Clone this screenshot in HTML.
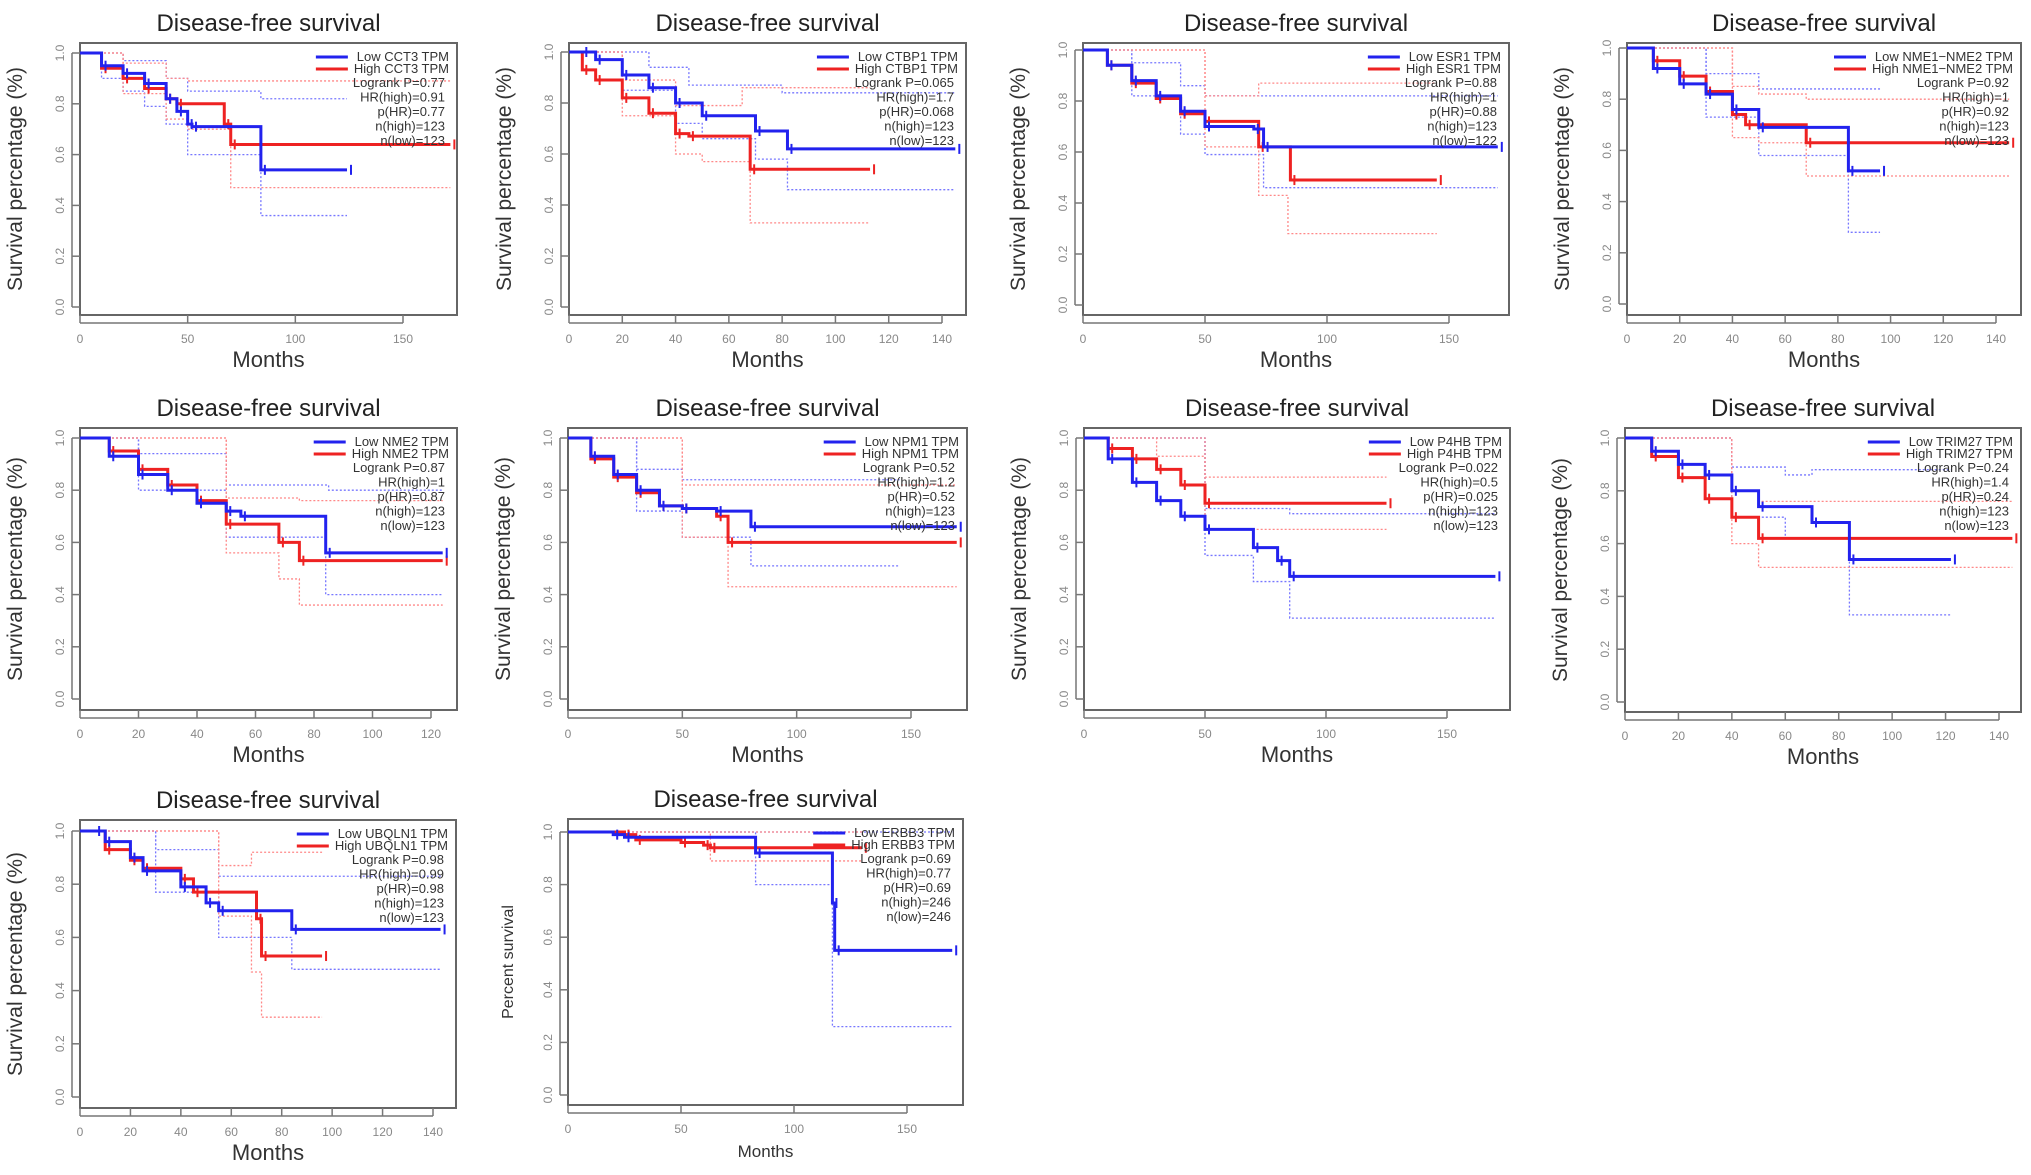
<!DOCTYPE html>
<html><head><meta charset="utf-8">
<style>
html,body{margin:0;padding:0;background:#fff;}
svg{display:block;font-family:"Liberation Sans",sans-serif;}
</style></head>
<body>
<svg id="fig" width="2031" height="1175" viewBox="0 0 2031 1175" xmlns="http://www.w3.org/2000/svg"></svg>
<script>
// ---- data: step points [months, survival] ----
const cct3Low=[[0,1],[10,.95],[20,.92],[30,.88],[40,.82],[45,.77],[50,.72],[52,.71],[84,.54],[124,.54]];
const cct3High=[[0,1],[10,.94],[20,.90],[30,.86],[40,.82],[45,.80],[67,.72],[70,.64],[172,.64]];
const cct3LowUp=[[0,1],[20,.97],[40,.90],[50,.85],[84,.82],[124,.82]];
const cct3LowDn=[[0,1],[10,.90],[20,.85],[30,.79],[40,.72],[50,.60],[84,.36],[124,.36]];
const cct3HighUp=[[0,1],[20,.96],[40,.90],[50,.89],[172,.89]];
const cct3HighDn=[[0,1],[20,.84],[40,.74],[50,.70],[70,.47],[172,.47]];
const cct3Stats=["Logrank P=0.77","HR(high)=0.91","p(HR)=0.77","n(high)=123","n(low)=123"];

const ctbp1Low=[[0,1],[5,1],[10,.97],[20,.91],[30,.86],[40,.80],[50,.75],[70,.69],[82,.62],[145,.62]];
const ctbp1High=[[0,1],[5,.93],[10,.89],[20,.82],[30,.76],[40,.68],[45,.67],[68,.54],[113,.54]];
const ctbp1LowUp=[[0,1],[10,1],[30,.94],[45,.87],[80,.84],[145,.84]];
const ctbp1LowDn=[[0,1],[20,.85],[40,.72],[50,.66],[70,.58],[82,.46],[145,.46]];
const ctbp1HighUp=[[0,1],[20,.89],[40,.79],[65,.86],[113,.86]];
const ctbp1HighDn=[[0,1],[20,.75],[40,.60],[50,.57],[68,.33],[113,.33]];
const ctbp1Stats=["Logrank P=0.065","HR(high)=1.7","p(HR)=0.068","n(high)=123","n(low)=123"];

const esr1Low=[[0,1],[10,.94],[20,.88],[30,.82],[40,.76],[50,.70],[70,.69],[74,.62],[170,.62]];
const esr1High=[[0,1],[10,.94],[20,.87],[30,.81],[40,.75],[50,.72],[72,.62],[85,.49],[145,.49]];
const esr1LowUp=[[0,1],[20,.95],[40,.86],[50,.82],[170,.82]];
const esr1LowDn=[[0,1],[20,.82],[40,.67],[50,.59],[74,.46],[170,.46]];
const esr1HighUp=[[0,1],[50,.82],[72,.87],[145,.87]];
const esr1HighDn=[[0,1],[50,.62],[72,.43],[84,.28],[145,.28]];
const esr1Stats=["Logrank P=0.88","HR(high)=1","p(HR)=0.88","n(high)=123","n(low)=122"];

const nme1Low=[[0,1],[10,.92],[20,.86],[30,.82],[40,.76],[50,.69],[84,.52],[96,.52]];
const nme1High=[[0,1],[10,.95],[20,.89],[30,.83],[40,.74],[45,.70],[68,.63],[145,.63]];
const nme1LowUp=[[0,1],[30,.90],[50,.84],[84,.84],[96,.84]];
const nme1LowDn=[[0,1],[30,.73],[50,.58],[84,.28],[96,.28]];
const nme1HighUp=[[0,1],[40,.85],[50,.82],[68,.80],[145,.80]];
const nme1HighDn=[[0,1],[40,.65],[50,.63],[68,.50],[145,.50]];
const nme1Stats=["Logrank P=0.92","HR(high)=1","p(HR)=0.92","n(high)=123","n(low)=123"];

const nme2Low=[[0,1],[10,.93],[20,.86],[30,.80],[40,.75],[50,.72],[55,.70],[84,.56],[124,.56]];
const nme2High=[[0,1],[10,.95],[20,.88],[30,.82],[40,.76],[50,.67],[68,.60],[75,.53],[124,.53]];
const nme2LowUp=[[0,1],[20,.94],[50,.82],[85,.80],[124,.80]];
const nme2LowDn=[[0,1],[20,.80],[50,.62],[84,.40],[124,.40]];
const nme2HighUp=[[0,1],[50,.77],[75,.76],[124,.76]];
const nme2HighDn=[[0,1],[50,.56],[68,.46],[75,.36],[124,.36]];
const nme2Stats=["Logrank P=0.87","HR(high)=1","p(HR)=0.87","n(high)=123","n(low)=123"];

const npm1Low=[[0,1],[10,.93],[20,.86],[30,.80],[40,.74],[50,.73],[65,.72],[80,.66],[170,.66]];
const npm1High=[[0,1],[10,.92],[20,.85],[30,.79],[40,.74],[50,.73],[65,.70],[70,.60],[170,.60]];
const npm1LowUp=[[0,1],[30,.88],[50,.84],[145,.84]];
const npm1LowDn=[[0,1],[30,.72],[50,.62],[80,.51],[145,.51]];
const npm1HighUp=[[0,1],[50,.82],[170,.82]];
const npm1HighDn=[[0,1],[50,.62],[70,.43],[170,.43]];
const npm1Stats=["Logrank P=0.52","HR(high)=1.2","p(HR)=0.52","n(high)=123","n(low)=123"];

const p4hbLow=[[0,1],[10,.92],[20,.83],[30,.76],[40,.70],[50,.65],[70,.58],[80,.53],[85,.47],[170,.47]];
const p4hbHigh=[[0,1],[10,.96],[20,.92],[30,.88],[40,.82],[50,.75],[125,.75]];
const p4hbLowUp=[[0,1],[50,.73],[85,.71],[170,.71]];
const p4hbLowDn=[[0,1],[50,.55],[70,.45],[85,.31],[170,.31]];
const p4hbHighUp=[[0,1],[30,.93],[50,.85],[125,.85]];
const p4hbHighDn=[[0,1],[50,.65],[125,.65]];
const p4hbStats=["Logrank P=0.022","HR(high)=0.5","p(HR)=0.025","n(high)=123","n(low)=123"];

const trim27Low=[[0,1],[10,.95],[20,.90],[30,.86],[40,.80],[50,.74],[70,.68],[84,.54],[122,.54]];
const trim27High=[[0,1],[10,.93],[20,.85],[30,.77],[40,.70],[50,.62],[145,.62]];
const trim27LowUp=[[0,1],[40,.89],[60,.86],[70,.88],[122,.88]];
const trim27LowDn=[[0,1],[40,.70],[60,.62],[84,.33],[122,.33]];
const trim27HighUp=[[0,1],[40,.80],[50,.76],[145,.76]];
const trim27HighDn=[[0,1],[40,.60],[50,.51],[145,.51]];
const trim27Stats=["Logrank P=0.24","HR(high)=1.4","p(HR)=0.24","n(high)=123","n(low)=123"];

const ubqln1Low=[[0,1],[6,1],[10,.96],[20,.90],[25,.85],[40,.79],[50,.73],[55,.70],[84,.63],[143,.63]];
const ubqln1High=[[0,1],[10,.93],[20,.89],[25,.86],[40,.82],[45,.77],[70,.67],[72,.53],[96,.53]];
const ubqln1LowUp=[[0,1],[30,.93],[55,.83],[143,.83]];
const ubqln1LowDn=[[0,1],[30,.77],[55,.60],[84,.48],[143,.48]];
const ubqln1HighUp=[[0,1],[55,.87],[68,.92],[96,.92]];
const ubqln1HighDn=[[0,1],[55,.68],[68,.47],[72,.30],[96,.30]];
const ubqln1Stats=["Logrank P=0.98","HR(high)=0.99","p(HR)=0.98","n(high)=123","n(low)=123"];

const erbb3Low=[[0,1],[20,.99],[25,.98],[83,.92],[117,.73],[118,.55],[170,.55]];
const erbb3High=[[0,1],[25,.99],[30,.97],[50,.96],[60,.95],[63,.94],[130,.94]];
const erbb3LowUp=[[0,1],[170,1]];
const erbb3LowDn=[[0,1],[83,.80],[117,.26],[170,.26]];
const erbb3HighUp=[[0,1],[130,.99]];
const erbb3HighDn=[[0,1],[63,.89],[130,.89]];
const erbb3Stats=["Logrank p=0.69","HR(high)=0.77","p(HR)=0.69","n(high)=246","n(low)=246"];

// ---- layout (pixels) ----
const panels=[
 {id:"cct3",gene:"CCT3",L:80,R:457,T:43,B:315,x0:80,x1:403,xt:150,y1:53,y0:307,ticks:[0,50,100,150],low:cct3Low,high:cct3High,lu:cct3LowUp,ld:cct3LowDn,hu:cct3HighUp,hd:cct3HighDn,stats:cct3Stats,yl:"Survival percentage (%)"},
 {id:"ctbp1",gene:"CTBP1",L:569,R:966,T:43,B:315,x0:569,x1:942,xt:140,y1:52,y0:307,ticks:[0,20,40,60,80,100,120,140],low:ctbp1Low,high:ctbp1High,lu:ctbp1LowUp,ld:ctbp1LowDn,hu:ctbp1HighUp,hd:ctbp1HighDn,stats:ctbp1Stats,yl:"Survival percentage (%)"},
 {id:"esr1",gene:"ESR1",L:1083,R:1509,T:43,B:315,x0:1083,x1:1449,xt:150,y1:50,y0:305,ticks:[0,50,100,150],low:esr1Low,high:esr1High,lu:esr1LowUp,ld:esr1LowDn,hu:esr1HighUp,hd:esr1HighDn,stats:esr1Stats,yl:"Survival percentage (%)"},
 {id:"nme1",gene:"NME1\u2212NME2",L:1627,R:2021,T:43,B:315,x0:1627,x1:1996,xt:140,y1:48,y0:304,ticks:[0,20,40,60,80,100,120,140],low:nme1Low,high:nme1High,lu:nme1LowUp,ld:nme1LowDn,hu:nme1HighUp,hd:nme1HighDn,stats:nme1Stats,yl:"Survival percentage (%)"},
 {id:"nme2",gene:"NME2",L:80,R:457,T:428,B:710,x0:80,x1:431,xt:120,y1:438,y0:699,ticks:[0,20,40,60,80,100,120],low:nme2Low,high:nme2High,lu:nme2LowUp,ld:nme2LowDn,hu:nme2HighUp,hd:nme2HighDn,stats:nme2Stats,yl:"Survival percentage (%)"},
 {id:"npm1",gene:"NPM1",L:568,R:967,T:428,B:710,x0:568,x1:911,xt:150,y1:438,y0:699,ticks:[0,50,100,150],low:npm1Low,high:npm1High,lu:npm1LowUp,ld:npm1LowDn,hu:npm1HighUp,hd:npm1HighDn,stats:npm1Stats,yl:"Survival percentage (%)"},
 {id:"p4hb",gene:"P4HB",L:1084,R:1510,T:428,B:710,x0:1084,x1:1447,xt:150,y1:438,y0:699,ticks:[0,50,100,150],low:p4hbLow,high:p4hbHigh,lu:p4hbLowUp,ld:p4hbLowDn,hu:p4hbHighUp,hd:p4hbHighDn,stats:p4hbStats,yl:"Survival percentage (%)"},
 {id:"trim27",gene:"TRIM27",L:1625,R:2021,T:428,B:712,x0:1625,x1:1999,xt:140,y1:438,y0:702,ticks:[0,20,40,60,80,100,120,140],low:trim27Low,high:trim27High,lu:trim27LowUp,ld:trim27LowDn,hu:trim27HighUp,hd:trim27HighDn,stats:trim27Stats,yl:"Survival percentage (%)"},
 {id:"ubqln1",gene:"UBQLN1",L:80,R:456,T:820,B:1108,x0:80,x1:433,xt:140,y1:831,y0:1097,ticks:[0,20,40,60,80,100,120,140],low:ubqln1Low,high:ubqln1High,lu:ubqln1LowUp,ld:ubqln1LowDn,hu:ubqln1HighUp,hd:ubqln1HighDn,stats:ubqln1Stats,yl:"Survival percentage (%)"},
 {id:"erbb3",gene:"ERBB3",L:568,R:963,T:819,B:1105,x0:568,x1:907,xt:150,y1:832,y0:1095,ticks:[0,50,100,150],low:erbb3Low,high:erbb3High,lu:erbb3LowUp,ld:erbb3LowDn,hu:erbb3HighUp,hd:erbb3HighDn,stats:erbb3Stats,yl:"Percent survival"}
];
const yTicks=[0,0.2,0.4,0.6,0.8,1.0];
const NS="http://www.w3.org/2000/svg";
const svg=document.getElementById("fig");
function mk(tag,attrs,parent,txt){const e=document.createElementNS(NS,tag);for(const k in attrs)e.setAttribute(k,attrs[k]);if(txt!==undefined)e.textContent=txt;parent.appendChild(e);return e;}
function stepPath(pts,xs,ys){let d="M"+xs(pts[0][0])+","+ys(pts[0][1]);for(let i=1;i<pts.length;i++){d+="H"+xs(pts[i][0])+"V"+ys(pts[i][1]);}return d;}
panels.forEach(p=>{
 const g=mk("g",{},svg);
 
 
 const xs=t=>p.x0+(p.x1-p.x0)*t/p.xt;
 const ys=s=>p.y0+(p.y1-p.y0)*s;
 const cx=(p.L+p.R)/2;
 const ti=mk("text",{x:cx,y:p.T-12,"text-anchor":"middle","font-size":24,fill:"#222"},g,"Disease-free survival");
 
 
 const box=mk("rect",{x:p.L,y:p.T,width:p.R-p.L,height:p.B-p.T,fill:"none",stroke:"#666","stroke-width":2},g);
 
 
 // y axis
 yTicks.forEach(v=>{
  mk("line",{x1:p.L-8,x2:p.L,y1:ys(v),y2:ys(v),stroke:"#777","stroke-width":1.5},g);
  const tl=mk("text",{x:0,y:0,transform:`translate(${p.L-16},${ys(v)}) rotate(-90)`,"text-anchor":"middle","font-size":12,fill:"#888"},g,v.toFixed(1));
  
  
 });
 mk("line",{x1:p.L-8,x2:p.L-8,y1:ys(0),y2:ys(1),stroke:"#777","stroke-width":1.5},g);
 // x axis
 p.ticks.forEach(v=>{
  mk("line",{x1:xs(v),x2:xs(v),y1:p.B,y2:p.B+8,stroke:"#777","stroke-width":1.5},g);
  const tl=mk("text",{x:xs(v),y:p.B+28,"text-anchor":"middle","font-size":12,fill:"#888"},g,String(v));
  
  
 });
 mk("line",{x1:xs(0),x2:xs(p.ticks[p.ticks.length-1]),y1:p.B+8,y2:p.B+8,stroke:"#777","stroke-width":1.5},g);
 const xl=mk("text",{x:cx,y:p.B+52,"text-anchor":"middle","font-size":p.id==="erbb3"?17:22,fill:"#333"},g,"Months");
 
 
 const ylx=p.id==="erbb3"?p.L-55:p.L-58;
 const yl=mk("text",{x:0,y:0,transform:`translate(${ylx},${(p.T+p.B)/2}) rotate(-90)`,"text-anchor":"middle","font-size":p.id==="erbb3"?16:21,fill:"#333"},g,p.yl);
 
 
 // CI
 [[p.lu,"#7777ff"],[p.ld,"#7777ff"],[p.hu,"#ff8888"],[p.hd,"#ff8888"]].forEach(([pts,c])=>{
  const ci=mk("path",{d:stepPath(pts,xs,ys),fill:"none",stroke:c,"stroke-width":1.3,"stroke-dasharray":"2,2"},g);
  
  
 });
 // curves
 [[p.high,"#ee2222","high"],[p.low,"#2222ee","low"]].forEach(([pts,c,n])=>{
  const cu=mk("path",{d:stepPath(pts,xs,ys),fill:"none",stroke:c,"stroke-width":3},g);
  
  
  for(let i=1;i<pts.length;i++){const t=pts[i][0],s=pts[i][1];
   const ct=mk("line",{x1:xs(t)+4,x2:xs(t)+4,y1:ys(s)-5,y2:ys(s)+5,stroke:c,"stroke-width":2},g);
   
   }
 });
 // legend
 const lx=p.R-8, ly=p.T+14;
 const lowLbl="Low "+p.gene+" TPM", highLbl="High "+p.gene+" TPM";
 const lowT=mk("text",{x:lx,y:ly+4,"text-anchor":"end","font-size":13,fill:"#333"},g,lowLbl);
 
 
 const highT=mk("text",{x:lx,y:ly+16,"text-anchor":"end","font-size":13,fill:"#333"},g,highLbl);
 
 
 const w=lowT.getComputedTextLength?Math.max(lowT.getComputedTextLength(),highT.getComputedTextLength()):110;
 mk("line",{x1:lx-w-38,x2:lx-w-6,y1:ly,y2:ly,stroke:"#2222ee","stroke-width":3},g);
 mk("line",{x1:lx-w-38,x2:lx-w-6,y1:ly+12,y2:ly+12,stroke:"#ee2222","stroke-width":3},g);
 p.stats.forEach((s,i)=>{
  const st=mk("text",{x:lx-4,y:ly+30+i*14.5,"text-anchor":"end","font-size":13,fill:"#333"},g,s);
  
  
 });
});
</script>
</body></html>
